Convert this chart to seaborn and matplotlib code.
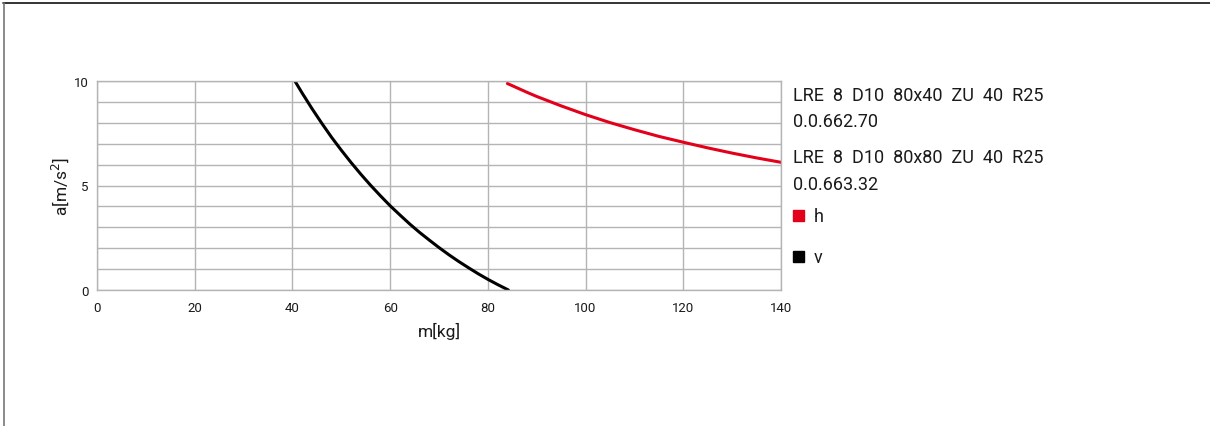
import matplotlib
matplotlib.use("Agg")
import matplotlib.pyplot as plt
import seaborn as sns
import pandas as pd
from matplotlib.lines import Line2D
from matplotlib.patches import Rectangle

# data
v_mass = [40.5, 42, 44, 46, 48, 50, 52, 54, 56, 58, 60, 62, 64, 66, 68, 70, 72, 74, 76, 78, 80, 82, 84.2]
v_acc = [10.0, 9.42, 8.68, 7.98, 7.31, 6.69, 6.10, 5.54, 5.01, 4.51, 4.03, 3.59, 3.16, 2.76,
         2.39, 2.03, 1.69, 1.37, 1.07, 0.78, 0.51, 0.26, 0.0]
h_mass = [84, 86, 88, 90, 92, 95, 100, 105, 110, 115, 120, 125, 130, 135, 140]
h_acc = [9.88, 9.67, 9.46, 9.26, 9.08, 8.81, 8.39, 8.01, 7.67, 7.35, 7.07, 6.80, 6.55, 6.32, 6.11]

x_ticks = [0, 20, 40, 60, 80, 100, 120, 140]
y_ticks = [0, 5, 10]
legend_lines = ["LRE  8  D10  80x40  ZU  40  R25", "0.0.662.70",
                "LRE  8  D10  80x80  ZU  40  R25", "0.0.663.32"]
series_names = ["h", "v"]
series_colors = {"h": "#e2001a", "v": "#000000"}

df = pd.concat([
    pd.DataFrame({"m": h_mass, "a": h_acc, "s": "h"}),
    pd.DataFrame({"m": v_mass, "a": v_acc, "s": "v"}),
])

sns.set_theme(style="white")
plt.rcParams["font.family"] = ["Roboto", "DejaVu Sans"]
txt = "#1a1a1a"
grid_c = "#b4b4b4"

fig = plt.figure(figsize=(12.1, 4.27), dpi=100)
ax = fig.add_axes([97 / 1210, 1 - 291 / 427, (781 - 97) / 1210, (291 - 82) / 427])

sns.lineplot(data=df, x="m", y="a", hue="s", palette=series_colors, ax=ax,
             linewidth=2.2, legend=False, sort=False, estimator=None)

ax.set_xlim(0, 140)
ax.set_ylim(0, 10)
ax.set_xticks(x_ticks)
ax.set_yticks(y_ticks)
ax.set_yticks(range(0, 11), minor=True)
ax.grid(True, which="both", color=grid_c, linewidth=1)
ax.set_axisbelow(True)
for sp in ax.spines.values():
    sp.set_color(grid_c)
    sp.set_linewidth(1)
ax.tick_params(axis="both", which="both", length=0, labelsize=9.5, colors=txt)
ax.tick_params(axis="x", pad=8)
ax.tick_params(axis="y", pad=6)
ax.set_xlabel("m[kg]", fontsize=12.5, color=txt, labelpad=6)
ax.set_ylabel("a[m/s$^2$]", fontsize=12.5, color=txt, labelpad=2)

# legend text on the right
ys = [96, 122, 158, 185]
for t, y in zip(legend_lines, ys):
    fig.text(793 / 1210, 1 - y / 427, t, fontsize=13, color=txt, va="center", ha="left")
for name, y in zip(series_names, [217, 258]):
    fig.add_artist(Rectangle((793 / 1210, 1 - (y + 5) / 427), 11 / 1210, 11 / 427,
                             transform=fig.transFigure, color=series_colors[name]))
    fig.text(814 / 1210, 1 - y / 427, name, fontsize=13, color=txt, va="center", ha="left")

# outer frame lines
fig.add_artist(Line2D([3 / 1210, 1], [1 - 4 / 427, 1 - 4 / 427], transform=fig.transFigure,
                      color="#111111", linewidth=1.2))
fig.add_artist(Line2D([3.5 / 1210, 3.5 / 1210], [0, 1 - 4 / 427], transform=fig.transFigure,
                      color="#777777", linewidth=1.2))

fig.savefig("out.png", dpi=100)
